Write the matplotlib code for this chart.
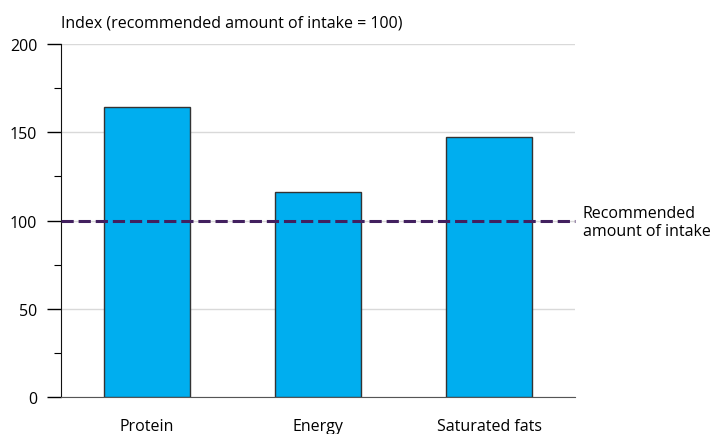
import numpy as np
import matplotlib.pyplot as plt
from matplotlib.ticker import MultipleLocator

categories = ['Protein', 'Energy', 'Saturated fats']
values = [164.5, 116, 147.5]
reference = 100

plt.rcParams['font.family'] = ['Open Sans', 'DejaVu Sans']

fig = plt.figure(figsize=(7.15, 4.35), dpi=100)
ax = fig.add_axes([61 / 715, 1 - 398 / 435, 514 / 715, 353 / 435])

x = np.arange(len(categories)) + 0.5
ax.bar(x, values, width=0.5, color='#00aeef', edgecolor='#333333', linewidth=1, zorder=3)
ax.axhline(reference, color='#42205f', linestyle=(0, (4, 1.6)), linewidth=2.2, zorder=4, clip_on=False)

ax.set_xlim(0, 3)
ax.set_ylim(0, 200)
ax.set_xticks(x)
ax.set_xticklabels(categories, fontsize=11.5)
ax.tick_params(axis='x', length=0, pad=15)
ax.yaxis.set_major_locator(MultipleLocator(50))
ax.yaxis.set_minor_locator(MultipleLocator(25))
ax.tick_params(axis='y', which='major', length=10, width=1, labelsize=11.5, pad=7)
ax.tick_params(axis='y', which='minor', length=5, width=0.8)
ax.grid(axis='y', color='#d9d9d9', linewidth=1, zorder=0)

for side in ['top', 'right']:
    ax.spines[side].set_visible(False)
ax.spines['left'].set_color('#111111')
ax.spines['bottom'].set_color('#555555')

fig.text(61 / 715, 1 - 24 / 435, 'Index (recommended amount of intake = 100)',
         fontsize=11.5, va='center', ha='left')
fig.text(583 / 715, 1 - 223 / 435, 'Recommended\namount of intake',
         fontsize=11.5, va='center', ha='left', linespacing=1.15)

fig.savefig('out.png', dpi=100)
